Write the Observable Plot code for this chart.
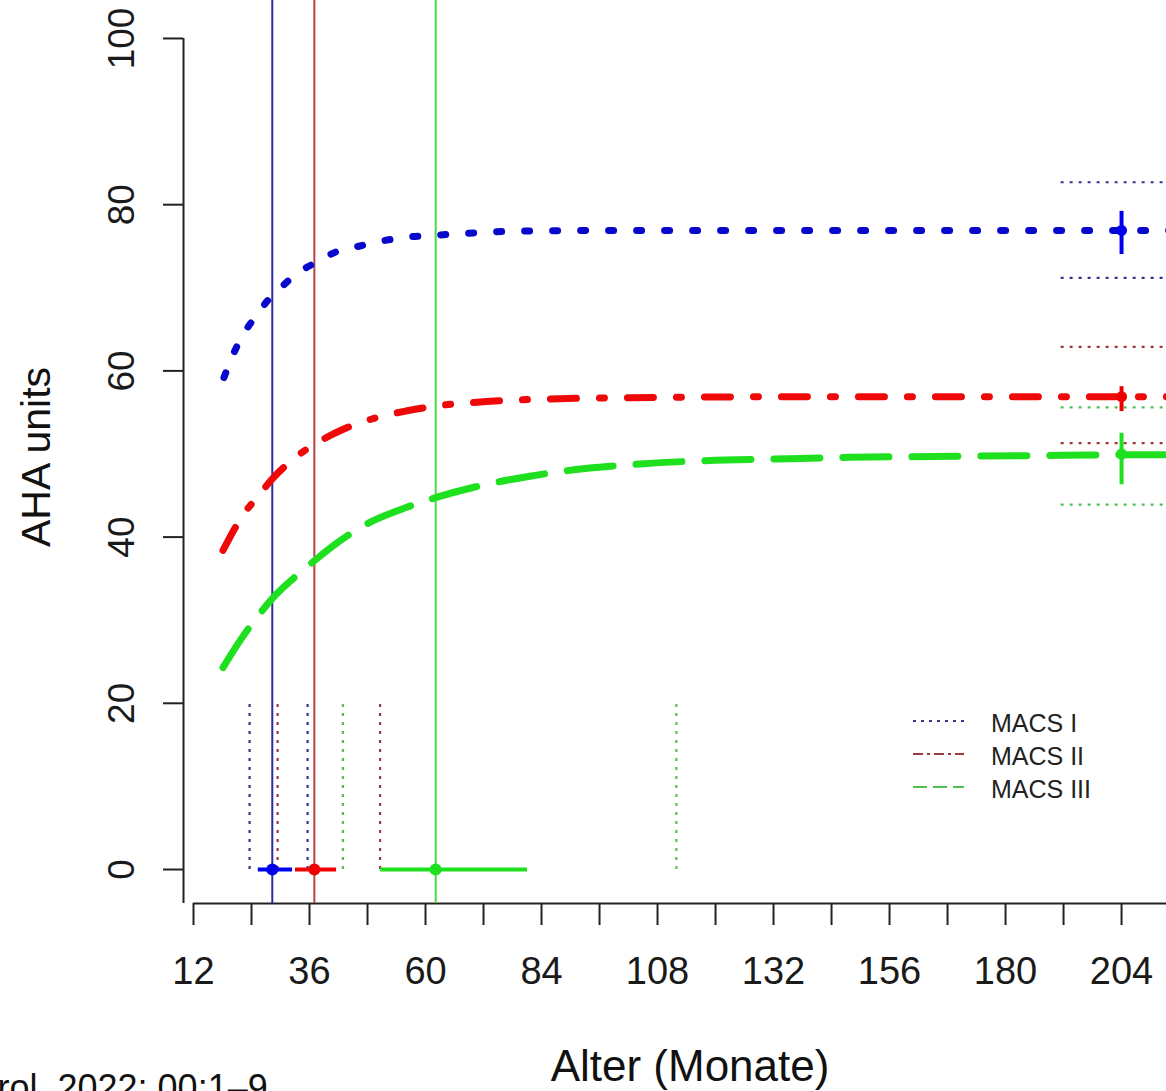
<!DOCTYPE html>
<html><head><meta charset="utf-8">
<script src="https://cdn.jsdelivr.net/npm/d3@7"></script>
<script src="https://cdn.jsdelivr.net/npm/@observablehq/plot@0.6"></script>
<style>
html,body{margin:0;padding:0;background:#fff;overflow:hidden;}
#wrap{position:relative;width:1166px;height:1091px;overflow:hidden;background:#fff;}
#legend{position:absolute;left:0;top:0;}
</style></head><body><div id="wrap"></div>
<script>
// ---- data ----
const groups = ["MACS I", "MACS II", "MACS III"];

const blueAge = [18.3, 20.3, 22.4, 24.8, 27.4, 30.4, 33.6, 37.5, 41.4, 46.2, 50.7, 56.2, 61.4, 66.9, 77.6, 96, 120, 150, 180, 204, 222];
const blueAHA = [59.2, 62.1, 64.5, 66.5, 68.5, 70.2, 71.8, 73.1, 74.3, 75.0, 75.6, 76.1, 76.3, 76.5, 76.8, 76.9, 76.9, 76.9, 76.9, 76.9, 76.9];

const redAge = [18.1, 20.3, 22.4, 25.2, 28.3, 33.1, 38.3, 43.1, 50.0, 56.2, 62.4, 70.0, 84, 108, 140, 180, 204, 222];
const redAHA = [38.4, 40.8, 42.8, 44.8, 47.0, 49.6, 51.6, 53.0, 54.4, 55.2, 55.8, 56.2, 56.6, 56.8, 56.9, 56.9, 56.9, 56.9];

const greenAge = [18.1, 21.7, 25.2, 28.6, 32.8, 36.9, 41.7, 47.9, 54.8, 62.4, 70.0, 81.3, 90.7, 104.4, 118.0, 132.5, 147.9, 164.9, 184.5, 204, 222];
const greenAHA = [24.3, 27.6, 30.4, 32.8, 35.1, 37.1, 39.3, 41.6, 43.3, 44.8, 46.0, 47.3, 48.1, 48.8, 49.2, 49.4, 49.6, 49.7, 49.8, 49.9, 49.9];

// age at 50% of plateau (median) with interval, drawn at AHA 0
const midAge = [28.3, 37.0, 62.1];
const midAgeLo = [25.4, 33.1, 50.7];
const midAgeHi = [32.5, 41.6, 81.1];
// dotted age markers near the x axis
const markerAgeA = [23.6, 29.4, 42.9];
const markerAgeB = [35.6, 50.6, 111.9];
const markerTop = 20;

// plateau estimates shown at 204 months
const plateauAge = 204;
const plateau = [76.9, 56.9, 50.0];
const plateauLo = [74.0, 55.1, 46.3];
const plateauHi = [79.2, 58.1, 52.5];
const plateauBandLo = [71.2, 51.3, 43.9];
const plateauBandHi = [82.7, 62.9, 55.6];
const bandStart = 191.5, bandEnd = 230;

const xTicks = d3.range(12, 217, 12);
const xLabels = [12, 36, 60, 84, 108, 132, 156, 180, 204];
const yTicks = [0, 20, 40, 60, 80, 100];
const xDomain = [9.93, 213.3];
const yDomain = [-4.09, 104.57];

// ---- styles ----
const curveColor = ["#0808cc", "#ee0808", "#1ee01e"];
const lineColor = ["#2c2ca4", "#b84444", "#48d848"];
const dotColor = ["#0000ee", "#ee0000", "#1ee01e"];
const markColor = ["#34348c", "#a03a3a", "#50c050"];
const dashes = ["5,23", "26,23,5,23", "46,23"];
const legendDash = ["3,5", "10,4,3,4", "14,6"];

const curves = [[blueAge, blueAHA], [redAge, redAHA], [greenAge, greenAHA]]
  .map(([a, v], g) => a.map((x, i) => ({g, x, y: v[i]})));
const mids = groups.map((name, g) => ({g, x: midAge[g], lo: midAgeLo[g], hi: midAgeHi[g]}));
const markers = groups.flatMap((name, g) => [{g, x: markerAgeA[g]}, {g, x: markerAgeB[g]}]);
const plats = groups.map((name, g) => ({g, y: plateau[g], lo: plateauLo[g], hi: plateauHi[g]}));
const bands = groups.flatMap((name, g) => [{g, y: plateauBandLo[g]}, {g, y: plateauBandHi[g]}]);

const font = "'Liberation Sans', Arial, sans-serif";

const plot = Plot.plot({
  width: 1166, height: 1091,
  marginLeft: 183, marginRight: 0, marginTop: 0, marginBottom: 188,
  x: {domain: xDomain, axis: null},
  y: {domain: yDomain, axis: null},
  style: {fontFamily: font, background: "white", color: "#1a1a1a"},
  marks: [
    // axes
    Plot.ruleY([yDomain[0]], {x1: 12, x2: xDomain[1], stroke: "#222", strokeWidth: 2}),
    Plot.ruleX([xDomain[0]], {y1: yDomain[0], y2: 100, stroke: "#222", strokeWidth: 2}),
    Plot.axisX({ticks: xTicks, tickSize: 22, tickPadding: 32, fontSize: 38, strokeWidth: 2, stroke: "#222",
      tickFormat: d => xLabels.includes(d) ? String(d) : "", label: null}),
    Plot.axisY({ticks: yTicks, tickSize: 20, tickPadding: 30, tickRotate: -90, fontSize: 37, strokeWidth: 2, stroke: "#222", label: null}),
    Plot.text(["AHA units"], {text: d => d, frameAnchor: "left", textAnchor: "middle", lineAnchor: "middle", dx: -147, dy: 5, rotate: -90, fontSize: 41, fill: "#111"}),
    Plot.text(["Alter (Monate)"], {text: d => d, frameAnchor: "bottom", textAnchor: "middle", dx: 15, dy: 163, fontSize: 44, lineAnchor: "middle", fill: "#111"}),
    Plot.text(["rol. 2022; 00:1–9"], {text: d => d, frameAnchor: "bottom-left", dx: -186, dy: 196, textAnchor: "start", lineAnchor: "bottom", fontSize: 36, fill: "#111"}),

    // median-age lines spanning the plot
    Plot.ruleX(mids, {x: "x", y1: yDomain[0], y2: yDomain[1], stroke: d => lineColor[d.g], strokeWidth: 2}),
    // dotted age markers
    Plot.ruleX(markers, {x: "x", y1: 0, y2: markerTop, stroke: d => markColor[d.g], strokeWidth: 2.2, strokeDasharray: "3,6"}),
    // dotted plateau bands
    Plot.ruleY(bands, {y: "y", x1: bandStart, x2: bandEnd, stroke: d => markColor[d.g], strokeWidth: 2.2, strokeDasharray: "3,6", clip: true}),

    // curves
    ...curves.map((c, g) => Plot.line(c, {x: "x", y: "y", stroke: curveColor[g], strokeWidth: 7,
      strokeDasharray: dashes[g], strokeLinecap: "round", curve: "monotone-x", clip: true})),

    // median-age interval at AHA 0
    Plot.ruleY(mids, {y: 0, x1: "lo", x2: "hi", stroke: d => dotColor[d.g], strokeWidth: 4}),
    Plot.dot(mids, {x: "x", y: 0, r: 6, fill: d => dotColor[d.g], stroke: "none"}),

    // plateau estimate with interval
    Plot.ruleX(plats, {x: plateauAge, y1: "lo", y2: "hi", stroke: d => dotColor[d.g], strokeWidth: 4}),
    Plot.dot(plats, {x: plateauAge, y: "y", r: 5.5, fill: d => dotColor[d.g], stroke: "none"})
  ]
});
document.getElementById("wrap").appendChild(plot);

// legend inside the plot area
const leg = d3.select("#wrap").append("svg").attr("id", "legend").attr("width", 1166).attr("height", 1091);
const legY = [721, 754, 787];
groups.forEach((name, g) => {
  leg.append("line").attr("x1", 913).attr("x2", 964).attr("y1", legY[g]).attr("y2", legY[g])
    .attr("stroke", markColor[g]).attr("stroke-width", 2.2).attr("stroke-dasharray", legendDash[g]);
  leg.append("text").attr("x", 991).attr("y", legY[g] + 2).attr("dy", "0.35em")
    .attr("font-family", font).attr("font-size", 25).attr("fill", "#222").text(name);
});
</script></body></html>
